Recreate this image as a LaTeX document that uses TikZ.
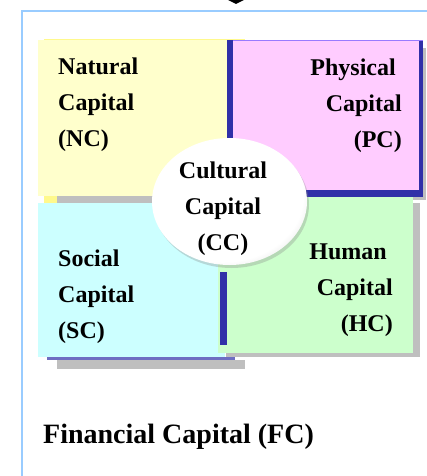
\documentclass[tikz,border=0pt]{standalone}
\usepackage{fontspec}
\setmainfont{Liberation Serif}
\usetikzlibrary{shapes.geometric,shadows}

\definecolor{framecol}{RGB}{153,204,255}
\definecolor{ncyellow}{RGB}{255,255,204}
\definecolor{pcpink}{RGB}{255,204,255}
\definecolor{sccyan}{RGB}{204,255,255}
\definecolor{hcgreen}{RGB}{204,255,204}
\definecolor{shadowgray}{RGB}{191,191,191}
\definecolor{bevel}{RGB}{48,48,168}

\pgfdeclareradialshading{ccrim}{\pgfpoint{-4bp}{4bp}}{color(0bp)=(white); color(26bp)=(white); color(42bp)=(gray!60); color(50bp)=(gray!85); color(60bp)=(gray!85)}

\begin{document}
\begin{tikzpicture}[x=1pt,y=-1pt,
  boxtext/.style={font=\fontsize{24}{36}\selectfont\bfseries, inner sep=0pt},
  ccball/.style={ellipse, minimum width=155pt, minimum height=127pt, inner sep=0pt,
    shading=ccrim, drop shadow={shadow xshift=2pt, shadow yshift=-3pt, opacity=0.3}}]
  \useasboundingbox (0,0) rectangle (426,476);

  % Frame
  \draw[framecol, line width=2pt] (22,477) -- (22,11) -- (427,11);
  \fill (228,0) -- (244,0) -- (236,4) -- cycle;

  % Natural capital
  \fill[yellow!45] (44,39) rectangle (245,203);
  \fill[shadowgray] (57,196) rectangle (245,203);
  \fill[ncyellow] (38,40) rectangle (240,196);

  % Physical capital
  \fill[shadowgray] (233,48) rectangle (426,200);
  \fill[bevel] (227,40) rectangle (423,197);
  \fill[pcpink] (233,40) rectangle (419,190);
  \draw[pcpink!60!blue, line width=0.8pt] (233,40) -- (423,40);

  % Social capital
  \fill[shadowgray] (57,360) rectangle (245,369);
  \fill[bevel!70!white] (47,357) rectangle (235,360);
  \fill[sccyan] (38,203) rectangle (225,357);

  % Human capital
  \fill[shadowgray] (226,203) rectangle (420,357);
  \fill[hcgreen] (218,197) rectangle (413,353);
  \fill[bevel] (220,272) rectangle (227,345);

  % Cultural capital
  \node[ccball] (cc) at (229.5,201.5) {};

  % Labels
  \node[boxtext, align=left, anchor=north west] (nc) at (58,57.5) {Natural\\Capital\\(NC)};
  \node[boxtext, align=right, anchor=north east] (pc) at (402,58.5) {Physical\hspace*{6pt}\\Capital\\(PC)};
  \node[boxtext, align=center, anchor=north] (cctext) at (223,161.5) {Cultural\\Capital\\(CC)};
  \node[boxtext, align=left, anchor=north west] (sc) at (58,249.6) {Social\\Capital\\(SC)};
  \node[boxtext, align=right, anchor=north east] (hc) at (393,244) {Human\hspace*{6pt}\\Capital\\(HC)};
  \node[font=\fontsize{28}{34}\selectfont\bfseries, inner sep=0pt, anchor=base west] (fc) at (43,443) {Financial Capital (FC)};
\end{tikzpicture}
\end{document}
